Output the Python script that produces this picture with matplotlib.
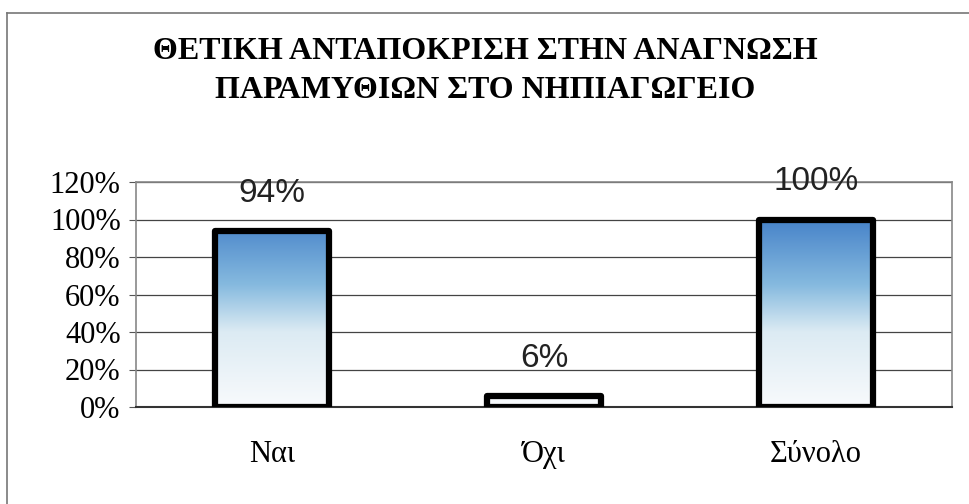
import matplotlib.pyplot as plt
import numpy as np
from matplotlib.colors import LinearSegmentedColormap
from matplotlib.lines import Line2D

# data
categories = ['Ναι', 'Όχι', 'Σύνολο']
values = [94, 6, 100]
value_labels = ['94%', '6%', '100%']
yticks = [0, 20, 40, 60, 80, 100, 120]
title = 'ΘΕΤΙΚΗ ΑΝΤΑΠΟΚΡΙΣΗ ΣΤΗΝ ΑΝΑΓΝΩΣΗ\nΠΑΡΑΜΥΘΙΩΝ ΣΤΟ ΝΗΠΙΑΓΩΓΕΙΟ'

serif = ['Liberation Serif', 'DejaVu Serif']
sans = ['Liberation Sans', 'DejaVu Sans']

fig = plt.figure(figsize=(9.7, 5.04), dpi=100)
ax = fig.add_axes([136/970, 1 - 407/504, 816/970, 225/504])

x = np.arange(len(categories))
bars = ax.bar(x, values, width=0.42, facecolor='none', edgecolor='black',
              linewidth=4.5, joinstyle='round', zorder=3)

# blue -> white gradient inside each bar (fixed to the 0-100% scale)
cmap = LinearSegmentedColormap.from_list('bl', [(0, '#4783c9'), (0.35, '#86badf'),
                                                (0.6, '#dcebf3'), (1, '#f8fafc')])
grad = np.linspace(0, 1, 256).reshape(-1, 1)
for b in bars:
    bx, w = b.get_x(), b.get_width()
    im = ax.imshow(grad, cmap=cmap, aspect='auto', zorder=2,
                   extent=[bx, bx + w, 0, 100], origin='upper')
    im.set_clip_path(b)

for i, (v, lab) in enumerate(zip(values, value_labels)):
    ax.annotate(lab, (x[i], v), xytext=(0, 27), textcoords='offset points',
                ha='center', va='center', fontsize=24, family=sans, color='#222222')

ax.set_xlim(-0.5, 2.5)
ax.set_ylim(0, 120)
ax.set_yticks(yticks)
ax.set_yticklabels([f'{t}%' for t in yticks], fontsize=22, family=serif)
ax.set_xticks(x)
ax.set_xticklabels(categories, fontsize=22, family=serif)
ax.tick_params(axis='x', length=0, pad=24)
ax.tick_params(axis='y', length=5, color='#555555', pad=6, direction='out')
ax.yaxis.grid(True, color='#444444', linewidth=0.9)
ax.set_axisbelow(True)
for s in ['top', 'right', 'left']:
    ax.spines[s].set_color('#888888')
    ax.spines[s].set_linewidth(1.2)
ax.spines['bottom'].set_color('#333333')
ax.spines['bottom'].set_linewidth(1.5)

fig.text(485/970, 1 - 71/504, title, ha='center', va='center', fontsize=23,
         fontweight='bold', family=serif, linespacing=1.45)

# outer frame of the chart (left and top edges)
fig.add_artist(Line2D([7/970, 7/970], [0, 1 - 13/504], transform=fig.transFigure,
                      color='#777777', linewidth=1.2))
fig.add_artist(Line2D([7/970, 1], [1 - 13/504, 1 - 13/504], transform=fig.transFigure,
                      color='#777777', linewidth=1.2))

fig.savefig('out.png', dpi=100)
